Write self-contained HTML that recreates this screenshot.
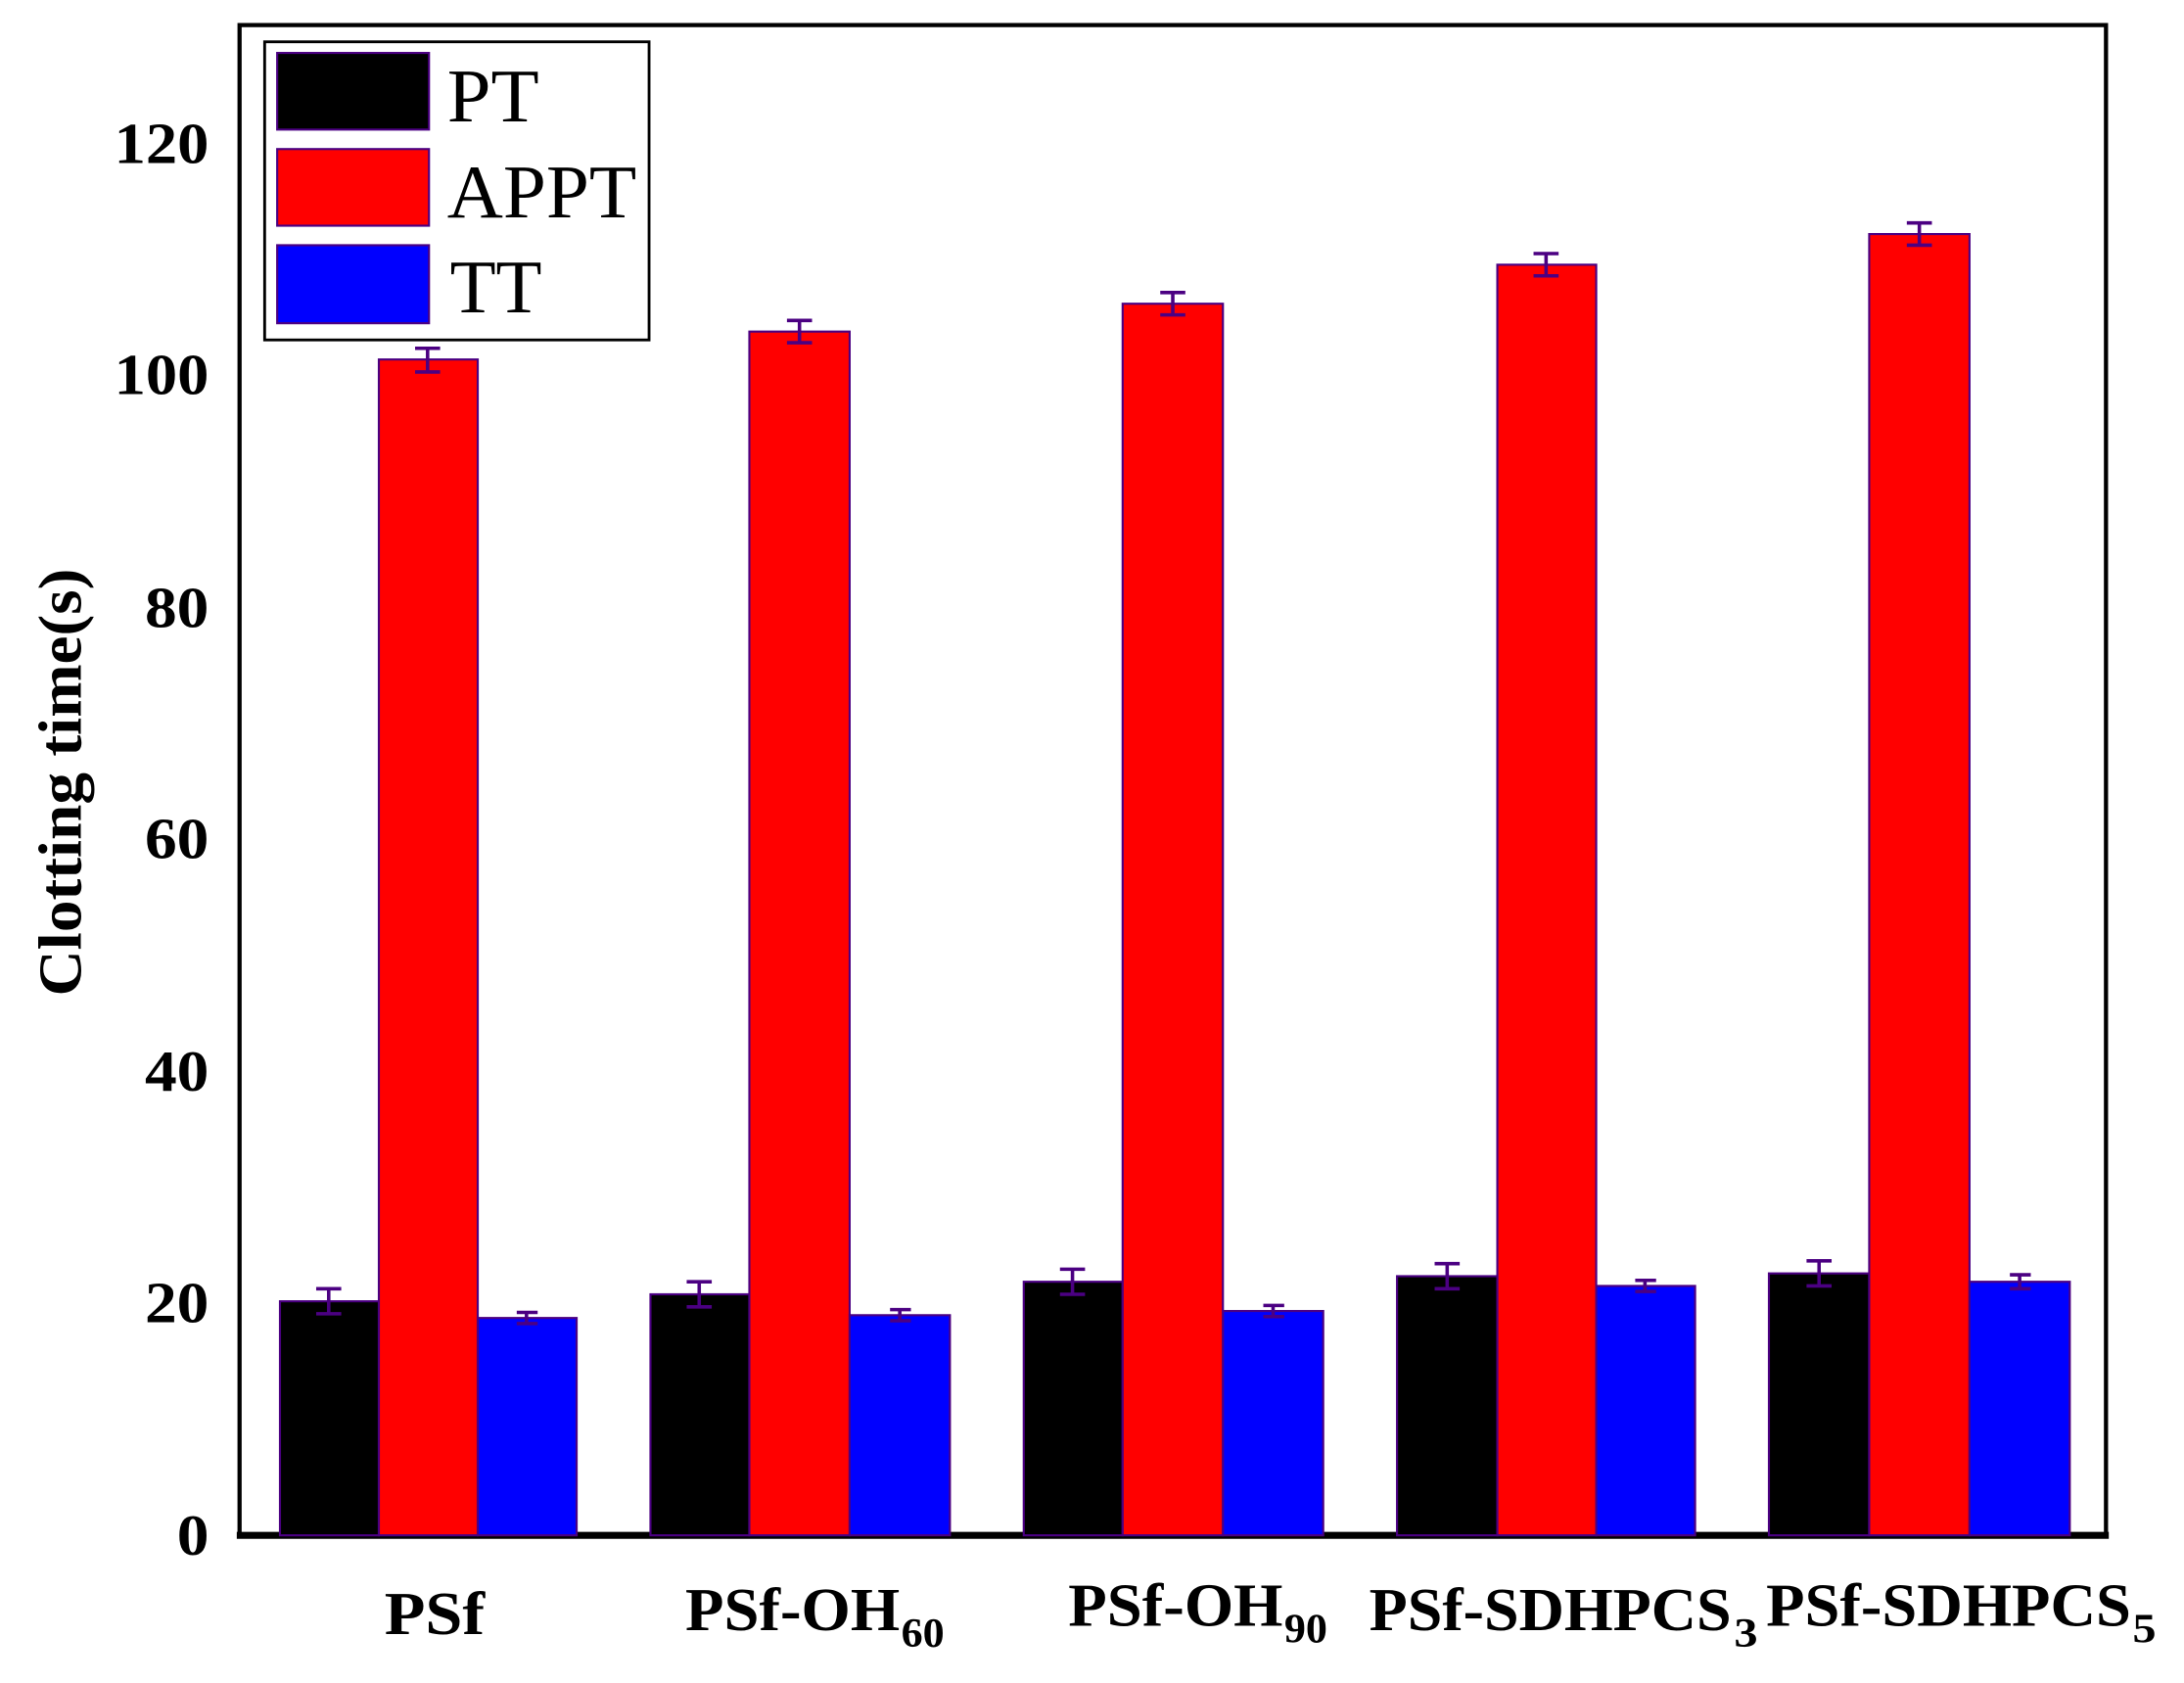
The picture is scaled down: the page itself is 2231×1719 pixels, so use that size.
<!DOCTYPE html>
<html><head><meta charset="utf-8"><style>html,body{margin:0;padding:0;background:#fff}svg{display:block}</style></head>
<body>
<svg width="2231" height="1719" viewBox="0 0 1568 1208" preserveAspectRatio="none" xmlns="http://www.w3.org/2000/svg" font-family="'Liberation Serif', serif">
<rect width="1568" height="1208" fill="#fff"/>
<rect x="172" y="18" width="1340" height="1084" fill="none" stroke="#000" stroke-width="3"/>
<line x1="170" y1="1102" x2="1514" y2="1102" stroke="#000" stroke-width="5"/>
<g stroke="#4b0082" stroke-width="1.5">
<rect x="201" y="934" width="71" height="168" fill="#000"/>
<rect x="272" y="258" width="71" height="844" fill="#f00"/>
<rect x="343" y="946" width="71" height="156" fill="#00f"/>
<rect x="467" y="929" width="71" height="173" fill="#000"/>
<rect x="538" y="238" width="72" height="864" fill="#f00"/>
<rect x="610" y="944" width="72" height="158" fill="#00f"/>
<rect x="735" y="920" width="71" height="182" fill="#000"/>
<rect x="806" y="218" width="72" height="884" fill="#f00"/>
<rect x="878" y="941" width="72" height="161" fill="#00f"/>
<rect x="1003" y="916" width="72" height="186" fill="#000"/>
<rect x="1075" y="190" width="71" height="912" fill="#f00"/>
<rect x="1146" y="923" width="71" height="179" fill="#00f"/>
<rect x="1270" y="914" width="72" height="188" fill="#000"/>
<rect x="1342" y="168" width="72" height="934" fill="#f00"/>
<rect x="1414" y="920" width="72" height="182" fill="#00f"/>
</g>
<g stroke="#4b0082" stroke-width="2.5" fill="none">
<path d="M236 925V943M227 925H245M227 943H245"/>
<path d="M307 250V267M298 250H316M298 267H316"/>
<path d="M378 942V950M371 942H386M371 950H386"/>
<path d="M502 920V938M493 920H511M493 938H511"/>
<path d="M574 230V246M565 230H583M565 246H583"/>
<path d="M646 940V948M639 940H654M639 948H654"/>
<path d="M770 911V929M761 911H779M761 929H779"/>
<path d="M842 210V226M833 210H851M833 226H851"/>
<path d="M914 937V945M907 937H922M907 945H922"/>
<path d="M1039 907V925M1030 907H1048M1030 925H1048"/>
<path d="M1110 182V198M1101 182H1119M1101 198H1119"/>
<path d="M1181 919V927M1174 919H1189M1174 927H1189"/>
<path d="M1306 905V923M1297 905H1315M1297 923H1315"/>
<path d="M1378 160V176M1369 160H1387M1369 176H1387"/>
<path d="M1450 915V925M1443 915H1458M1443 925H1458"/>
</g>
<rect x="190" y="30" width="276" height="214" fill="#fff" stroke="#000" stroke-width="2"/>
<g stroke="#4b0082" stroke-width="1.5">
<rect x="199" y="38" width="109" height="55" fill="#000"/>
<rect x="199" y="107" width="109" height="55" fill="#f00"/>
<rect x="199" y="176" width="109" height="56" fill="#00f"/>
</g>
<g font-size="54" fill="#000">
<text x="321" y="87" textLength="66" lengthAdjust="spacingAndGlyphs">PT</text>
<text x="321" y="156" textLength="136" lengthAdjust="spacingAndGlyphs">APPT</text>
<text x="323" y="224" textLength="66" lengthAdjust="spacingAndGlyphs">TT</text>
</g>
<g font-size="42" font-weight="bold" fill="#000">
<text x="127" y="1116" textLength="23" lengthAdjust="spacingAndGlyphs">0</text>
<text x="104" y="949" textLength="46" lengthAdjust="spacingAndGlyphs">20</text>
<text x="104" y="783" textLength="46" lengthAdjust="spacingAndGlyphs">40</text>
<text x="104" y="616" textLength="46" lengthAdjust="spacingAndGlyphs">60</text>
<text x="104" y="450" textLength="46" lengthAdjust="spacingAndGlyphs">80</text>
<text x="82" y="283" textLength="68" lengthAdjust="spacingAndGlyphs">100</text>
<text x="82" y="117" textLength="68" lengthAdjust="spacingAndGlyphs">120</text>
</g>
<text transform="translate(58,715) rotate(-90)" font-size="44" font-weight="bold" fill="#000" textLength="307" lengthAdjust="spacingAndGlyphs">Clotting time(s)</text>
<g font-size="44" font-weight="bold" fill="#000">
<text x="276" y="1173" textLength="72" lengthAdjust="spacingAndGlyphs">PSf</text>
<text x="492" y="1170" textLength="154" lengthAdjust="spacingAndGlyphs">PSf-OH</text>
<text x="647" y="1182" font-size="30" textLength="31" lengthAdjust="spacingAndGlyphs">60</text>
<text x="767" y="1167" textLength="154" lengthAdjust="spacingAndGlyphs">PSf-OH</text>
<text x="922" y="1179" font-size="30" textLength="31" lengthAdjust="spacingAndGlyphs">90</text>
<text x="983" y="1170" textLength="260" lengthAdjust="spacingAndGlyphs">PSf-SDHPCS</text>
<text x="1245" y="1182" font-size="30" textLength="17" lengthAdjust="spacingAndGlyphs">3</text>
<text x="1268" y="1167" textLength="262" lengthAdjust="spacingAndGlyphs">PSf-SDHPCS</text>
<text x="1531" y="1179" font-size="30" textLength="17" lengthAdjust="spacingAndGlyphs">5</text>
</g>
</svg>
</body></html>
